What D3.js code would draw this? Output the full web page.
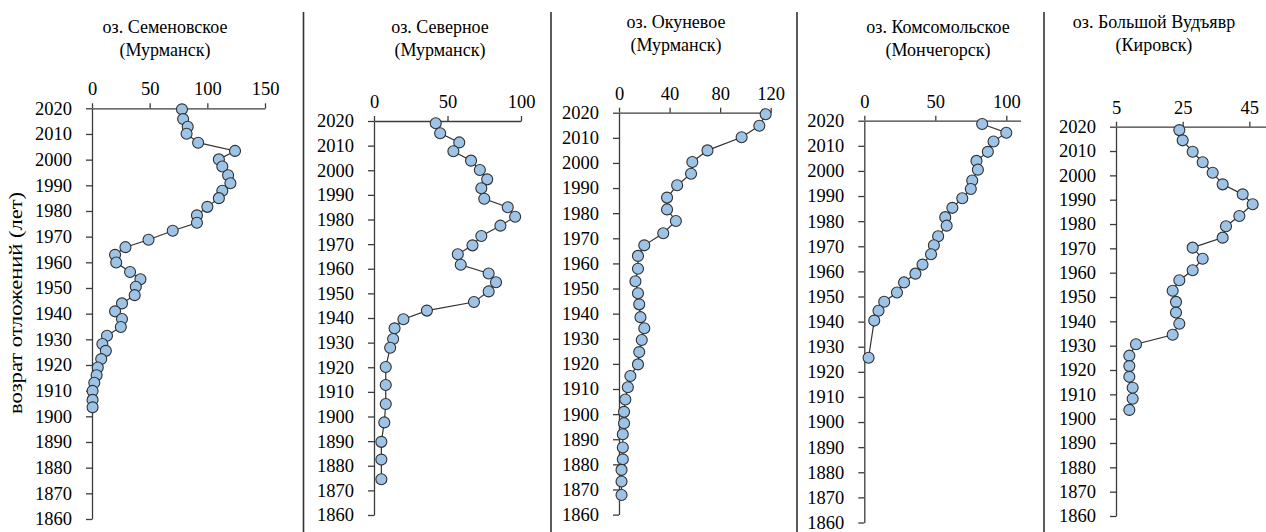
<!DOCTYPE html>
<html>
<head>
<meta charset="utf-8">
<script src="https://cdn.jsdelivr.net/npm/d3@7"></script>
<style>
  body { margin: 0; background: #fff; }
  svg text { font-family: "Liberation Serif", "Times New Roman", serif; fill: #000; }
  .tick text { font-size: 18.5px; }
  .title { font-size: 18px; }
</style>
</head>
<body>
<svg id="chart"></svg>
<script>
const width = 1266, height = 532;

// years (age of sediment) and values
const semYears = [2019.6, 2015.8, 2012.8, 2010.1, 2006.6, 2003.4, 2000.1, 1997.3, 1993.9, 1990.8, 1987.9, 1985.0, 1981.6, 1978.3, 1975.4, 1972.3, 1968.8, 1965.9, 1962.9, 1959.9, 1956.2, 1953.4, 1950.5, 1947.2, 1944.0, 1940.9, 1937.9, 1934.8, 1931.4, 1928.2, 1925.5, 1922.3, 1919.0, 1916.0, 1913.1, 1909.9, 1906.4, 1903.5];
const semValues = [78, 79, 83, 82, 92, 124, 110, 113, 118, 120, 113, 110, 100, 91, 91, 70, 49, 29, 20, 21, 33, 42, 38, 37, 26, 20, 26, 25, 13, 9, 12, 8, 5, 4, 2, 0.5, 0.5, 0.5];

const sevYears = [2019.1, 2015.0, 2011.3, 2007.7, 2003.9, 2000.1, 1996.3, 1992.7, 1988.4, 1985.0, 1981.1, 1977.5, 1973.3, 1969.5, 1965.9, 1961.6, 1958.1, 1954.5, 1950.8, 1946.5, 1943.0, 1939.5, 1935.8, 1931.5, 1927.9, 1920.1, 1912.8, 1905.1, 1897.6, 1889.7, 1882.5, 1874.5];
const sevValues = [42, 45, 58, 54, 66, 72, 77, 73, 75, 91, 96, 86, 73, 67, 57, 59, 78, 83, 78, 68, 36, 20, 14, 13, 11, 8, 8, 8, 7, 5, 5, 5];

const okuYears = [2019.4, 2014.8, 2010.2, 2005.0, 2000.4, 1995.7, 1991.1, 1986.2, 1981.5, 1976.9, 1972.0, 1967.2, 1963.0, 1957.9, 1952.9, 1948.1, 1943.7, 1938.6, 1934.2, 1929.5, 1924.7, 1919.8, 1915.2, 1910.7, 1905.8, 1900.9, 1896.4, 1892.0, 1886.7, 1882.0, 1877.8, 1873.2, 1867.8];
const okuValues = [116, 111, 97, 70, 58, 57, 46, 38, 38, 45, 35, 20, 15, 15, 13, 15, 16, 17, 20, 18, 16, 15, 9, 7, 5, 4, 4, 3, 3, 3, 2, 2, 2];

const komYears = [2018.7, 2015.2, 2011.7, 2007.6, 2004.0, 2000.5, 1996.2, 1992.8, 1989.1, 1985.3, 1981.6, 1978.2, 1974.0, 1970.4, 1966.8, 1962.7, 1959.1, 1955.6, 1951.6, 1947.9, 1944.3, 1940.4, 1925.6];
const komValues = [83, 100, 91, 87, 79, 80, 76, 75, 69, 62, 57, 58, 52, 49, 47, 41, 36, 28, 23, 14, 10, 7, 3];

const vudYears = [2018.6, 2014.4, 2009.7, 2005.4, 2001.1, 1996.3, 1992.2, 1988.1, 1983.3, 1979.1, 1974.4, 1970.3, 1965.7, 1961.0, 1956.9, 1952.6, 1948.0, 1943.6, 1939.0, 1934.5, 1930.6, 1925.9, 1921.6, 1917.2, 1912.7, 1908.2, 1903.6];
const vudValues = [24, 25, 28, 31, 34, 37, 43, 46, 42, 38, 37, 28, 31, 28, 24, 22, 23, 23, 24, 22, 11, 9, 9, 9, 10, 10, 9];

const yearTicks = d3.range(1860, 2021, 10);
const titles = [
    ["оз. Семеновское", "(Мурманск)"],
    ["оз. Северное", "(Мурманск)"],
    ["оз. Окуневое", "(Мурманск)"],
    ["оз. Комсомольское", "(Мончегорск)"],
    ["оз. Большой Вудъявр", "(Кировск)"]
];
const xTickSets = [[0, 50, 100, 150], [0, 50, 100], [0, 40, 80, 120], [0, 50, 100], [5, 25, 45]];
const xDomains = [[0, 150], [0, 100], [0, 120], [0, 110], [5, 50]];
const yAxisLabel = "возрат отложений (лет)";

// layout of each small panel
const panels = [
    { years: semYears, values: semValues, xr: [92, 265], yr: [108.3, 519], tx: 165, ty: 33 },
    { years: sevYears, values: sevValues, xr: [374, 521], yr: [121, 515], tx: 440, ty: 33 },
    { years: okuYears, values: okuValues, xr: [619, 770.7], yr: [112.7, 514.6], tx: 676, ty: 28 },
    { years: komYears, values: komValues, xr: [864.3, 1020.5], yr: [120.7, 522.5], tx: 938, ty: 33 },
    { years: vudYears, values: vudValues, xr: [1116, 1266], yr: [126.7, 516], tx: 1154, ty: 28 }
];
const separators = [303.5, 551, 797, 1044];

const svg = d3.select("#chart")
    .attr("width", width)
    .attr("height", height);

svg.append("rect").attr("width", width).attr("height", height).attr("fill", "#fff");

// vertical divider lines between the lakes
svg.selectAll("line.sep")
    .data(separators)
    .join("line")
    .attr("class", "sep")
    .attr("x1", d => d).attr("x2", d => d)
    .attr("y1", 12).attr("y2", height)
    .attr("stroke", "#333")
    .attr("stroke-width", 1.6);

panels.forEach((p, i) => {
    const x = d3.scaleLinear().domain(xDomains[i]).range(p.xr);
    const y = d3.scaleLinear().domain([2020, 1860]).range(p.yr);
    const g = svg.append("g");

    // title
    const t = g.append("text")
        .attr("class", "title")
        .attr("text-anchor", "middle")
        .attr("x", p.tx)
        .attr("y", p.ty);
    t.append("tspan").attr("x", p.tx).text(titles[i][0]);
    t.append("tspan").attr("x", p.tx).attr("dy", 23).text(titles[i][1]);

    // y axis (years)
    const ya = g.append("g")
        .attr("transform", `translate(${p.xr[0]},0)`)
        .call(d3.axisLeft(y).tickValues(yearTicks).tickFormat(d3.format("d"))
            .tickSize(6).tickPadding(14).tickSizeOuter(0));

    // x axis (values on top)
    const xa = g.append("g")
        .attr("transform", `translate(0,${p.yr[0]})`)
        .call(d3.axisTop(x).tickValues(xTickSets[i])
            .tickSize(5).tickPadding(8).tickSizeOuter(0));

    [ya, xa].forEach(a => {
        a.attr("font-family", null).attr("font-size", null);
        a.selectAll("path, line").attr("stroke", "#3c3c3c").attr("stroke-width", 1.3);
    });

    const pts = p.years.map((yr, k) => ({ year: yr, value: p.values[k] }));

    g.append("path")
        .datum(pts)
        .attr("fill", "none")
        .attr("stroke", "#333")
        .attr("stroke-width", 1.2)
        .attr("d", d3.line().x(d => x(d.value)).y(d => y(d.year)));

    g.selectAll("circle")
        .data(pts)
        .join("circle")
        .attr("cx", d => x(d.value))
        .attr("cy", d => y(d.year))
        .attr("r", 5.5)
        .attr("fill", "#9dc3e6")
        .attr("stroke", "#2f2f2f")
        .attr("stroke-width", 1.1);
});

// shared y axis caption
svg.append("text")
    .attr("transform", "translate(22,303) rotate(-90)")
    .attr("text-anchor", "middle")
    .attr("font-size", 18)
    .attr("textLength", 222)
    .attr("lengthAdjust", "spacingAndGlyphs")
    .text(yAxisLabel);
</script>
</body>
</html>
